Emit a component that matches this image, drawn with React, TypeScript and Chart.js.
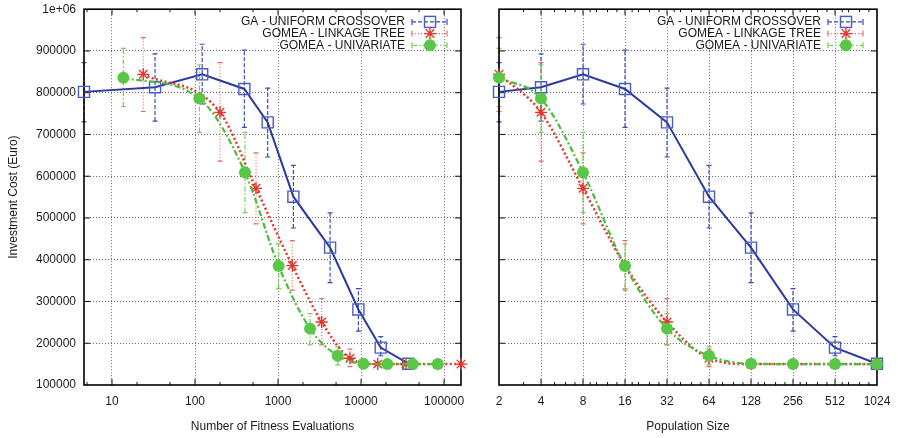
import React, { useEffect, useRef } from 'react';
import { Chart, registerables } from 'chart.js';

Chart.register(...registerables);

const FONT = '"Liberation Sans", Arial, Helvetica, sans-serif';
const TEXT = '#1a1a1a';
const GRID = '#6a6a6a';
const CLEAR = 'rgba(0,0,0,0)';

// ---------------- data ----------------
const seriesNames = ['GA - UNIFORM CROSSOVER', 'GOMEA - LINKAGE TREE', 'GOMEA - UNIVARIATE'];

const popSizes = [2, 4, 8, 16, 32, 64, 128, 256, 512, 1024];

const gaEvals = [4.6, 33, 122, 393, 751, 1531, 4236, 9295, 17250, 37150];
const gaCost = [802000, 813000, 844000, 809000, 729000, 551000, 429000, 281000, 189500, 151000];
const gaLow = [730000, 732000, 773000, 717000, 646000, 476000, 345000, 229000, 170000, 147000];
const gaHigh = [872000, 893000, 916000, 902000, 811000, 626000, 512000, 331000, 216000, 155000];

const ltEvals = [23.8, 200, 543, 1486, 3357, 7360, 15880, 34800, 84000, 160000];
const ltCost = [844000, 753000, 571000, 386000, 251000, 164000, 150000, 150000, 150000, 150000];
const ltLow = [755000, 636000, 486000, 327000, 196000, 144000, 147000, 148000, 149000, 149000];
const ltHigh = [932000, 872000, 656000, 446000, 307000, 186000, 155000, 153000, 151000, 151000];

const uniEvals = [13.7, 113, 400, 1018, 2430, 5236, 10670, 20750, 42000, 84000];
const uniCost = [836000, 786000, 609000, 385000, 235000, 170000, 151000, 150000, 150000, 150000];
const uniLow = [767000, 705000, 513000, 331000, 196000, 148000, 147000, 148000, 149000, 149000];
const uniHigh = [906000, 867000, 705000, 438000, 271000, 192000, 156000, 152000, 151000, 151000];

const evalTicks = [10, 100, 1000, 10000, 100000];
const evalMinorTicks = [5, 20, 50, 200, 500, 2000, 5000, 20000, 50000];
const popMinorTicks = [3, 5, 6, 7, 9, 10, 12, 14, 18, 20, 24, 28, 36, 40, 48, 56, 72, 80, 96, 112,
  144, 160, 192, 224, 288, 320, 384, 448, 576, 640, 768, 896];

const evalMin = 4.6;
const evalMax = 160000;
const popMin = 2;
const popMax = 1024;
const costMin = 100000;
const costMax = 1000000;
const costStep = 100000;

// ---------------- styles ----------------
const styles = [
  {
    line: '#2b3a9e', width: 2, dash: [] as number[], point: 'rect', radius: 7.8,
    pColor: '#4a5cc4', pFill: CLEAR, pBorder: 1.4, err: '#3a4db5', errDash: [4, 2], order: 3, smooth: false,
  },
  {
    line: '#e5352b', width: 2.5, dash: [2, 2.5], point: 'star', radius: 6,
    pColor: '#e5352b', pFill: '#e5352b', pBorder: 1.4, err: '#ee6a62', errDash: [1, 2], order: 2, smooth: true,
  },
  {
    line: '#4dbb3c', width: 2.2, dash: [6, 2.5, 2, 2.5], point: 'circle', radius: 6,
    pColor: '#5ac847', pFill: '#5ac847', pBorder: 0, err: '#78d064', errDash: [5, 2, 1.5, 2], order: 1, smooth: true,
  },
];

function drawMarker(ctx: CanvasRenderingContext2D, kind: string, x: number, y: number, s: any) {
  ctx.save();
  ctx.setLineDash([]);
  if (kind === 'rect') {
    const h = s.radius * Math.SQRT1_2;
    ctx.strokeStyle = s.pColor;
    ctx.lineWidth = s.pBorder;
    ctx.strokeRect(x - h, y - h, 2 * h, 2 * h);
  } else if (kind === 'star') {
    const r = s.radius;
    const d = r * Math.SQRT1_2;
    ctx.strokeStyle = s.pColor;
    ctx.lineWidth = s.pBorder;
    ctx.beginPath();
    ctx.moveTo(x - r, y); ctx.lineTo(x + r, y);
    ctx.moveTo(x, y - r); ctx.lineTo(x, y + r);
    ctx.moveTo(x - d, y - d); ctx.lineTo(x + d, y + d);
    ctx.moveTo(x - d, y + d); ctx.lineTo(x + d, y - d);
    ctx.stroke();
  } else {
    ctx.fillStyle = s.pFill;
    ctx.beginPath();
    ctx.arc(x, y, s.radius, 0, Math.PI * 2);
    ctx.fill();
  }
  ctx.restore();
}

function makeDecor(majorX: number[], minorX: number[]) {
  return {
    id: 'gnuplotDecor',
    beforeDatasetsDraw(chart: any) {
      const ctx: CanvasRenderingContext2D = chart.ctx;
      const a = chart.chartArea;
      const xs = chart.scales.x;
      const ys = chart.scales.y;
      // error bars
      chart.data.datasets.forEach((ds: any, i: number) => {
        const meta = chart.getDatasetMeta(i);
        const st = styles[i];
        ctx.save();
        ctx.strokeStyle = st.err;
        ctx.lineWidth = 1.2;
        meta.data.forEach((pt: any, j: number) => {
          const x = pt.x;
          const y1 = ys.getPixelForValue(ds.errLow[j]);
          const y2 = ys.getPixelForValue(ds.errHigh[j]);
          ctx.setLineDash(st.errDash);
          ctx.beginPath();
          ctx.moveTo(x, y1);
          ctx.lineTo(x, y2);
          ctx.stroke();
          ctx.setLineDash([]);
          ctx.beginPath();
          ctx.moveTo(x - 2.5, y1); ctx.lineTo(x + 2.5, y1);
          ctx.moveTo(x - 2.5, y2); ctx.lineTo(x + 2.5, y2);
          ctx.stroke();
        });
        ctx.restore();
      });
      // frame and inward ticks
      ctx.save();
      ctx.setLineDash([]);
      ctx.strokeStyle = '#111';
      ctx.lineWidth = 1;
      ctx.beginPath();
      ys.ticks.forEach((t: any) => {
        if (t.value <= costMin || t.value >= costMax) return;
        const y = ys.getPixelForValue(t.value);
        ctx.moveTo(a.left, y); ctx.lineTo(a.left + 6, y);
        ctx.moveTo(a.right, y); ctx.lineTo(a.right - 6, y);
      });
      majorX.forEach((v) => {
        const x = xs.getPixelForValue(v);
        if (x <= a.left + 0.5 || x >= a.right - 0.5) return;
        ctx.moveTo(x, a.bottom); ctx.lineTo(x, a.bottom - 6);
        ctx.moveTo(x, a.top); ctx.lineTo(x, a.top + 6);
      });
      minorX.forEach((v) => {
        const x = xs.getPixelForValue(v);
        if (x <= a.left + 0.5 || x >= a.right - 0.5) return;
        ctx.moveTo(x, a.bottom); ctx.lineTo(x, a.bottom - 3);
        ctx.moveTo(x, a.top); ctx.lineTo(x, a.top + 3);
      });
      ctx.stroke();
      ctx.lineWidth = 1.6;
      ctx.strokeStyle = '#000';
      ctx.strokeRect(a.left, a.top, a.right - a.left, a.bottom - a.top);
      ctx.restore();
    },
    afterDatasetsDraw(chart: any) {
      const ctx: CanvasRenderingContext2D = chart.ctx;
      const a = chart.chartArea;
      chart.data.datasets.forEach((ds: any, i: number) => {
        const st = styles[i];
        const y = a.top + 12.7 + i * 11.7;
        ctx.save();
        ctx.font = `12px ${FONT}`;
        ctx.fillStyle = TEXT;
        ctx.textAlign = 'right';
        ctx.textBaseline = 'middle';
        ctx.fillText(ds.label, a.right - 56, y);
        const x1 = a.right - 49;
        const x2 = a.right - 14;
        ctx.strokeStyle = st.err;
        ctx.lineWidth = 1.2;
        ctx.setLineDash(st.errDash);
        ctx.beginPath();
        ctx.moveTo(x1, y); ctx.lineTo(x2, y);
        ctx.stroke();
        ctx.setLineDash([]);
        ctx.beginPath();
        ctx.moveTo(x1, y - 3); ctx.lineTo(x1, y + 3);
        ctx.moveTo(x2, y - 3); ctx.lineTo(x2, y + 3);
        ctx.stroke();
        drawMarker(ctx, st.point, a.right - 31, y, st);
        ctx.restore();
      });
    },
  };
}

interface PanelOpts {
  xs: number[][];
  xMin: number;
  xMax: number;
  majorX: number[];
  minorX: number[];
  xTitle: string;
  showY: boolean;
  yWidth: number;
  padRight: number;
}

function buildChart(canvas: HTMLCanvasElement, p: PanelOpts) {
  const costs = [gaCost, ltCost, uniCost];
  const lows = [gaLow, ltLow, uniLow];
  const highs = [gaHigh, ltHigh, uniHigh];
  const datasets = styles.map((st, i) => ({
    label: seriesNames[i],
    data: p.xs[i].map((x, j) => ({ x, y: costs[i][j] })),
    errLow: lows[i],
    errHigh: highs[i],
    borderColor: st.line,
    borderWidth: st.width,
    borderDash: st.dash,
    tension: st.smooth ? 0.4 : 0,
    cubicInterpolationMode: st.smooth ? 'monotone' : 'default',
    pointStyle: st.point,
    pointRadius: st.radius,
    pointBorderColor: st.pColor,
    pointBackgroundColor: st.pFill,
    pointBorderWidth: st.pBorder,
    order: st.order,
    clip: false,
    fill: false,
  }));
  const font = { family: FONT, size: 12 };
  return new Chart(canvas, {
    type: 'line',
    data: { datasets } as any,
    options: {
      responsive: false,
      animation: false,
      events: [],
      layout: { padding: { left: 0, top: 7.3, right: p.padRight, bottom: 0 } },
      plugins: { legend: { display: false }, tooltip: { enabled: false } },
      scales: {
        x: {
          type: 'logarithmic',
          min: p.xMin,
          max: p.xMax,
          afterBuildTicks: (s: any) => {
            s.ticks = p.majorX.map((v) => ({ value: v }));
          },
          afterFit: (s: any) => {
            s.height = 53;
          },
          ticks: {
            callback: (v: any) => String(v),
            font, color: TEXT, padding: 0, autoSkip: false, maxRotation: 0, minRotation: 0,
          },
          grid: {
            color: (c: any) => (c.tick && (c.tick.value <= p.xMin || c.tick.value >= p.xMax) ? CLEAR : GRID),
            lineWidth: 1,
            drawTicks: true,
            tickLength: 9,
            tickColor: CLEAR,
          },
          border: { display: false, dash: [1, 2] },
          title: { display: true, text: p.xTitle, font, color: TEXT, padding: { top: 0, bottom: 4.1 } },
        },
        y: {
          type: 'linear',
          min: costMin,
          max: costMax,
          afterFit: (s: any) => {
            s.width = p.yWidth;
          },
          ticks: {
            stepSize: costStep,
            display: p.showY,
            callback: (v: any) => (v >= 1000000 ? '1e+06' : String(v)),
            font, color: TEXT, padding: 0,
          },
          grid: {
            color: (c: any) => (c.tick && (c.tick.value <= costMin || c.tick.value >= costMax) ? CLEAR : GRID),
            lineWidth: 1,
            drawTicks: p.showY,
            tickLength: 8,
            tickColor: CLEAR,
          },
          border: { display: false, dash: [1, 2] },
          title: {
            display: p.showY, text: 'Investment Cost (Euro)', font, color: TEXT,
            padding: { top: 6.1, bottom: 0 },
          },
        },
      },
    } as any,
    plugins: [makeDecor(p.majorX, p.minorX)],
  });
}

export default function App() {
  const leftRef = useRef<HTMLCanvasElement>(null);
  const rightRef = useRef<HTMLCanvasElement>(null);

  useEffect(() => {
    const c1 = buildChart(leftRef.current as HTMLCanvasElement, {
      xs: [gaEvals, ltEvals, uniEvals],
      xMin: evalMin,
      xMax: evalMax,
      majorX: evalTicks,
      minorX: evalMinorTicks,
      xTitle: 'Number of Fitness Evaluations',
      showY: true,
      yWidth: 84,
      padRight: 29,
    });
    const c2 = buildChart(rightRef.current as HTMLCanvasElement, {
      xs: [popSizes, popSizes, popSizes],
      xMin: popMin,
      xMax: popMax,
      majorX: popSizes,
      minorX: popMinorTicks,
      xTitle: 'Population Size',
      showY: false,
      yWidth: 59,
      padRight: 21,
    });
    return () => {
      c1.destroy();
      c2.destroy();
    };
  }, []);

  return (
    <div style={{ position: 'fixed', left: 0, top: 0, width: 898, height: 438, background: '#fff', overflow: 'hidden' }}>
      <canvas ref={leftRef} width={490} height={438} style={{ position: 'absolute', left: 0, top: 0, width: 490, height: 438 }} />
      <canvas ref={rightRef} width={458} height={438} style={{ position: 'absolute', left: 440, top: 0, width: 458, height: 438 }} />
    </div>
  );
}
